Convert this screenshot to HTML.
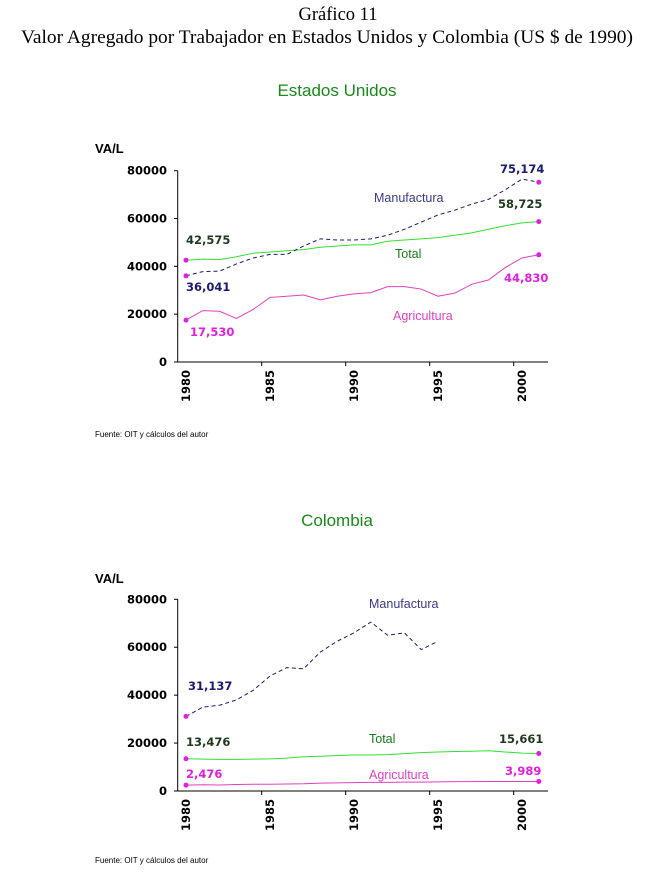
<!DOCTYPE html>
<html><head><meta charset="utf-8"><style>
body{margin:0;background:#fff;width:653px;height:885px;overflow:hidden}
svg{display:block}
</style></head><body>
<svg id="s" width="653" height="885" xmlns="http://www.w3.org/2000/svg" font-family="Liberation Sans, sans-serif">
<text x="338" y="20" text-anchor="middle" font-family="Liberation Serif, serif" font-size="18.5">Gráfico 11</text>
<text x="327" y="43" text-anchor="middle" font-family="Liberation Serif, serif" font-size="19" textLength="612" lengthAdjust="spacingAndGlyphs">Valor Agregado por Trabajador en Estados Unidos y Colombia (US $ de 1990)</text>
<text x="337" y="96" text-anchor="middle" font-size="17" fill="#1a8a1a">Estados Unidos</text>
<text x="337" y="526" text-anchor="middle" font-size="17" fill="#1a8a1a">Colombia</text>
<text x="95" y="153" font-size="13" font-weight="bold">VA/L</text>
<text x="95" y="583" font-size="13" font-weight="bold">VA/L</text>
<text x="95" y="437" font-size="8">Fuente: OIT y cálculos del autor</text>
<text x="95" y="863" font-size="8">Fuente: OIT y cálculos del autor</text>
<g id="g"></g>
</svg>
<script>
var g=document.getElementById('g'),h='';
function chart(y0,y80,series,labels){
 var sc=(y0-y80)/80000;
 function X(i){return 186+i*16.8}
 function Y(v){return y0-v*sc}
 h+='<line x1="177.7" y1="'+y80+'" x2="177.7" y2="'+y0+'" stroke="#000"/>';
 h+='<line x1="177.7" y1="'+y0+'" x2="548" y2="'+y0+'" stroke="#000"/>';
 for(var k=0;k<=4;k++){var yy=Y(k*20000);
  h+='<line x1="174" y1="'+yy+'" x2="177.7" y2="'+yy+'" stroke="#000"/>';
  h+='<text x="167" y="'+(yy+4)+'" text-anchor="end" font-size="11.5" font-weight="bold" font-family="DejaVu Sans, sans-serif">'+(k*20000)+'</text>';}
 for(var yr=1985;yr<=2000;yr+=5){var xx=177.7+(yr-1980)*16.8;
  h+='<line x1="'+xx+'" y1="'+y0+'" x2="'+xx+'" y2="'+(y0+4)+'" stroke="#000"/>';}
 for(var yr=1980;yr<=2000;yr+=5){var xx=X(yr-1980)+4;
  h+='<text transform="translate('+xx+','+(y0+8)+') rotate(-90)" text-anchor="end" font-size="11.5" font-weight="bold" font-family="DejaVu Sans, sans-serif">'+yr+'</text>';}
 series.forEach(function(s){var p=s.d.map(function(v,i){return X(i)+','+Y(v)}).join(' ');
  h+='<polyline points="'+p+'" fill="none" stroke="'+s.c+'" stroke-width="1"'+(s.dash?' stroke-dasharray="4,3"':'')+'/>';
  h+='<circle cx="'+X(0)+'" cy="'+Y(s.d[0])+'" r="2.5" fill="#e020e0"/>';
  if(s.end)h+='<circle cx="'+X(s.d.length-1)+'" cy="'+Y(s.d[s.d.length-1])+'" r="2.5" fill="#e020e0"/>';});
 labels.forEach(function(l){h+='<text x="'+l[0]+'" y="'+l[1]+'" font-size="'+(l[4]?12.5:11.5)+'" fill="'+l[3]+'"'+(l[4]?'':' font-weight="bold" font-family="DejaVu Sans, sans-serif"')+'>'+l[2]+'</text>';});
}
chart(362,170.7,[
 {c:'#33e033',d:[42575,43000,42800,44000,45500,46000,46500,47000,48000,48500,49000,49000,50500,51000,51500,52000,53000,54000,55500,57000,58200,58725],end:1},
 {c:'#1a1a6e',dash:1,d:[36041,37800,38000,41000,43500,45000,45000,48500,51500,51000,51000,51500,53000,55500,58500,61500,63500,66000,68000,72000,76500,75174],end:1},
 {c:'#e040c0',d:[17530,21500,21200,18200,22000,27000,27500,28000,26000,27500,28500,29000,31500,31500,30500,27500,28800,32500,34300,39500,43500,44830],end:1}
],[[186,244,'42,575','#1e3a1e'],[186,291,'36,041','#1a1a6e'],[190,336,'17,530','#e020e0'],[500,173,'75,174','#1a1a6e'],[498,208,'58,725','#1e3a1e'],[504,282,'44,830','#e020e0'],
 [374,202,'Manufactura','#3a3a8a',1],[395,258,'Total','#1a7a1a',1],[393,320,'Agricultura','#e040c0',1]]);
chart(791,599.3,[
 {c:'#33e033',d:[13476,13300,13200,13200,13300,13400,13700,14300,14500,14800,15000,15000,15200,15600,16000,16300,16500,16600,16800,16300,15800,15661],end:1},
 {c:'#1a1a6e',dash:1,d:[31137,35000,35800,38000,42000,48000,51500,51000,58000,62500,66000,70500,65000,66000,59000,62500]},
 {c:'#e040c0',d:[2476,2600,2500,2700,2800,2800,2900,3000,3300,3400,3500,3600,3600,3700,3700,3800,3900,3900,3950,3950,3980,3989],end:1}
],[[188,690,'31,137','#1a1a6e'],[186,746,'13,476','#1e3a1e'],[186,778,'2,476','#e020e0'],[499,743,'15,661','#1e3a1e'],[505,775,'3,989','#e020e0'],
 [369,608,'Manufactura','#3a3a8a',1],[369,743,'Total','#1a7a1a',1],[369,779,'Agricultura','#e040c0',1]]);
g.innerHTML=h;
</script>
</body></html>
